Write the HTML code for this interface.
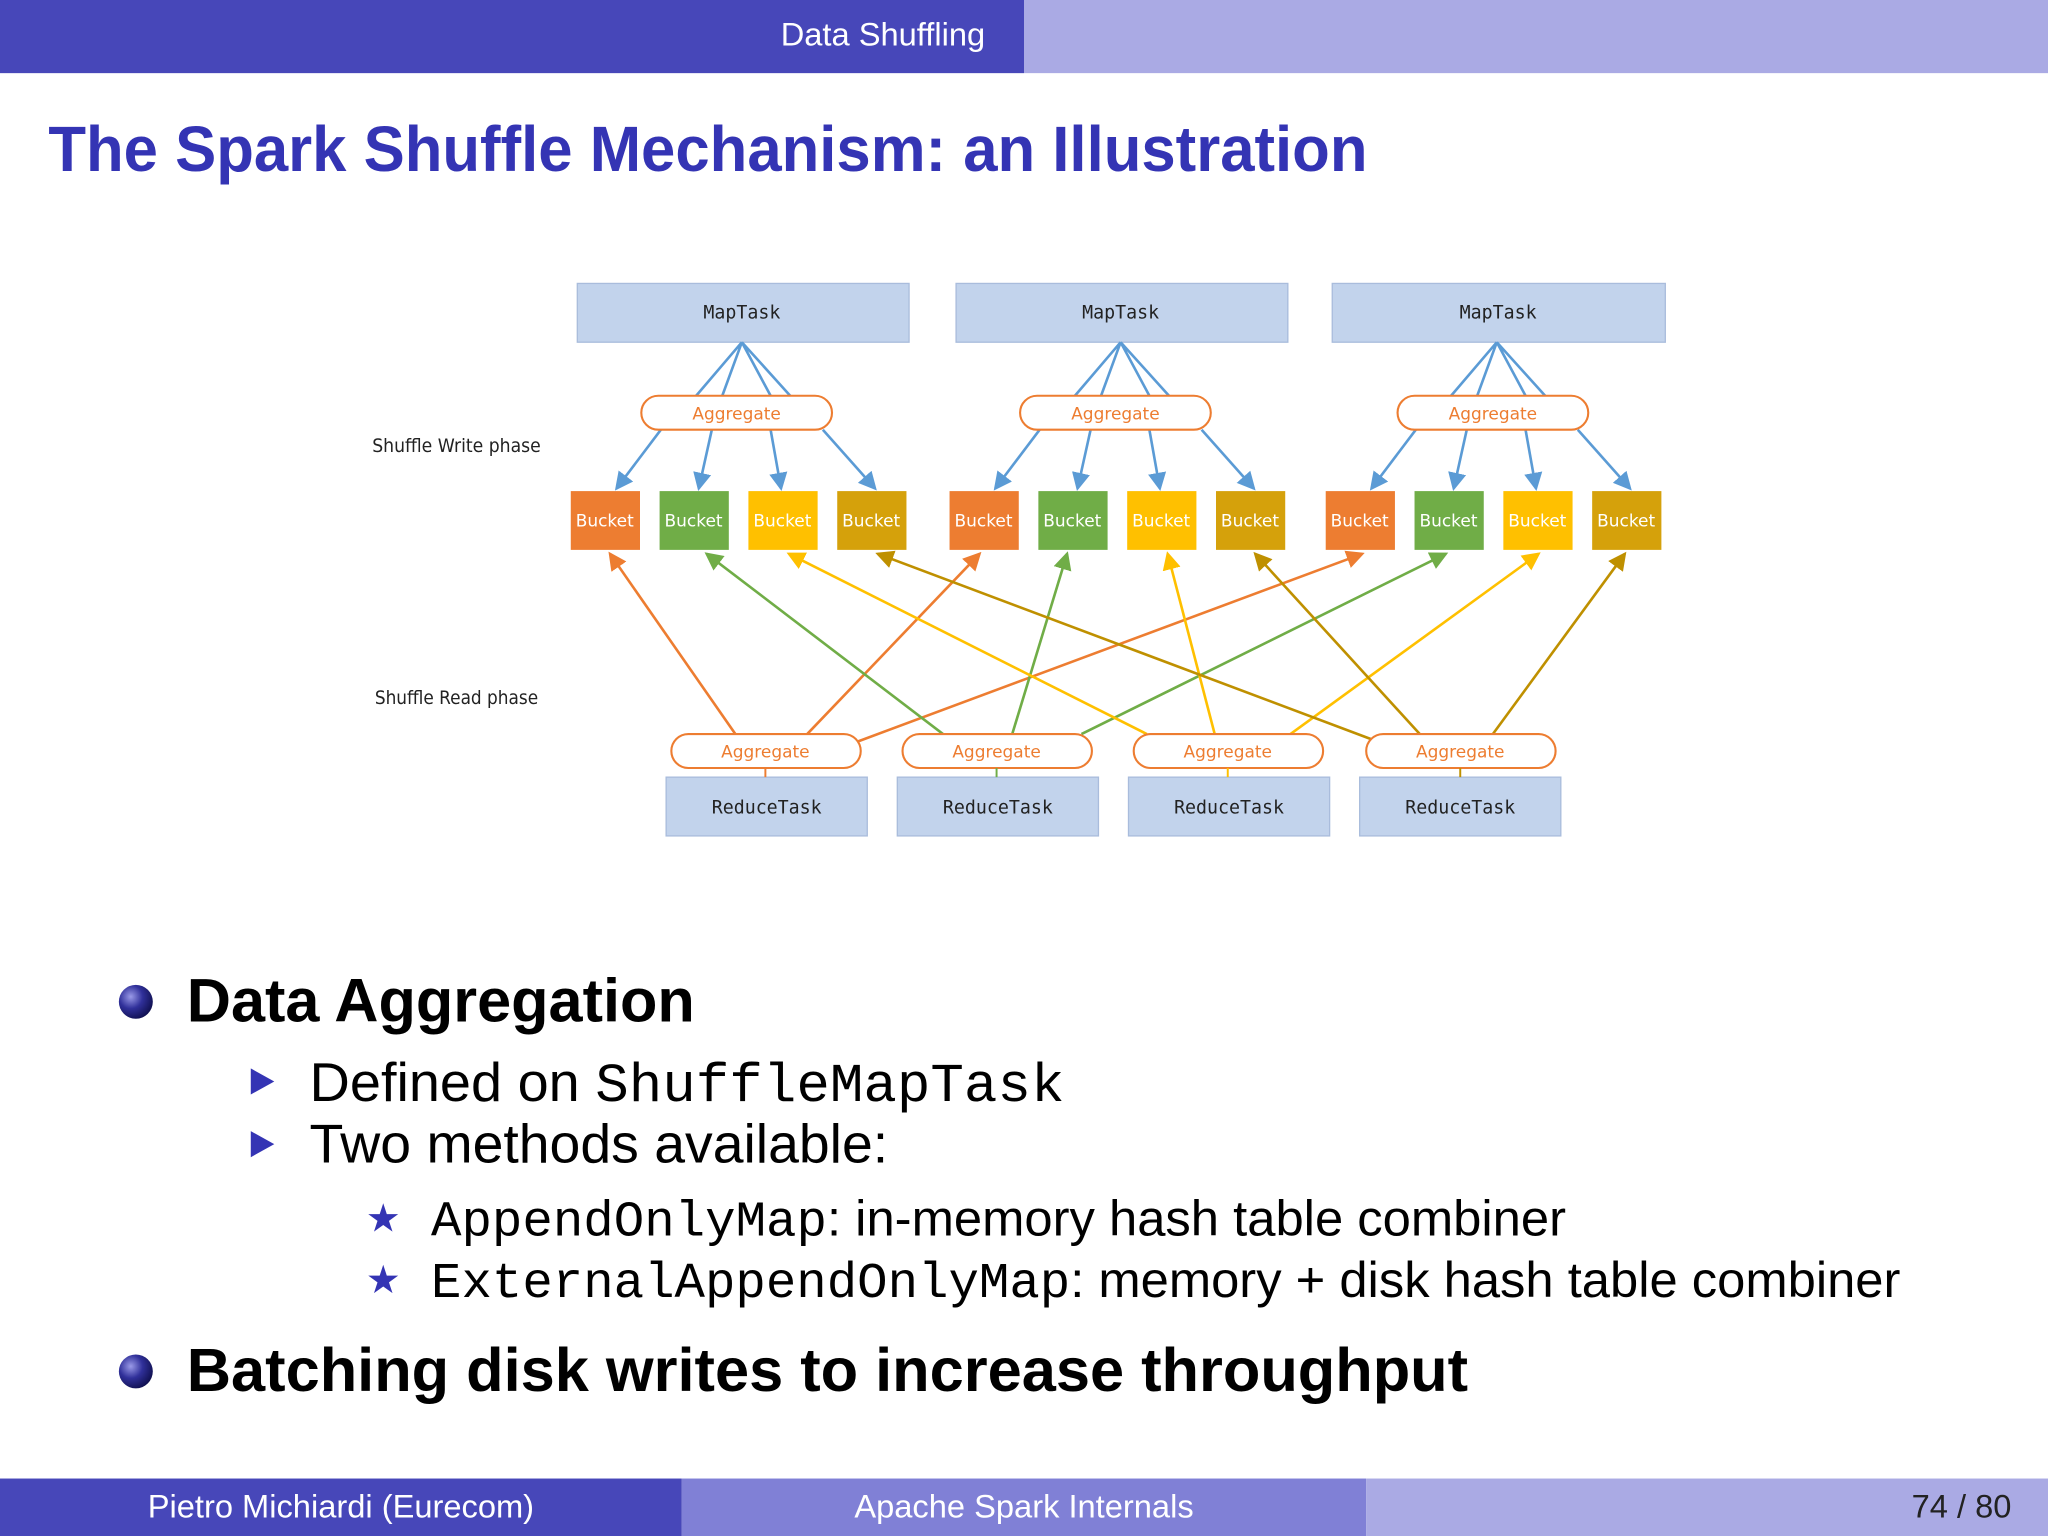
<!DOCTYPE html>
<html><head><meta charset="utf-8"><style>
html,body{margin:0;padding:0;background:#fff;}
svg{display:block;}
</style></head><body>
<svg width="2048" height="1536" viewBox="0 0 1568 1176" xmlns="http://www.w3.org/2000/svg" font-family="Liberation Sans, sans-serif">
<defs>
<marker id="ao" markerWidth="14" markerHeight="14" refX="12" refY="7" orient="auto" markerUnits="userSpaceOnUse"><path d="M0,0 L14,7 L0,14 z" fill="#ed7d31"/></marker>
<marker id="ag" markerWidth="14" markerHeight="14" refX="12" refY="7" orient="auto" markerUnits="userSpaceOnUse"><path d="M0,0 L14,7 L0,14 z" fill="#70ad47"/></marker>
<marker id="ay" markerWidth="14" markerHeight="14" refX="12" refY="7" orient="auto" markerUnits="userSpaceOnUse"><path d="M0,0 L14,7 L0,14 z" fill="#ffc000"/></marker>
<marker id="ad" markerWidth="14" markerHeight="14" refX="12" refY="7" orient="auto" markerUnits="userSpaceOnUse"><path d="M0,0 L14,7 L0,14 z" fill="#bf9000"/></marker>
<marker id="bb" markerWidth="14" markerHeight="14" refX="12" refY="7" orient="auto" markerUnits="userSpaceOnUse"><path d="M0,0 L14,7 L0,14 z" fill="#5b9bd5"/></marker>
<radialGradient id="ball" cx="0.35" cy="0.35" r="0.7"><stop offset="0" stop-color="#9a9ae8"/><stop offset="0.5" stop-color="#30309a"/><stop offset="1" stop-color="#101050"/></radialGradient>
</defs>
<rect x="0" y="0" width="784" height="56" fill="#4747b9"/>
<rect x="784" y="0" width="784" height="56" fill="#aaaae4"/>
<text x="676" y="35" font-size="25" fill="#fff" text-anchor="middle">Data Shuffling</text>
<text x="37" y="131" font-size="49" font-weight="bold" fill="#3434b4" textLength="1010" lengthAdjust="spacingAndGlyphs">The Spark Shuffle Mechanism: an Illustration</text>

<g font-family="DejaVu Sans Mono, Liberation Mono, monospace" font-size="14" fill="#222">
<rect x="442" y="217" width="254" height="45" fill="#c2d3ec" stroke="#a9bcdc"/>
<rect x="732" y="217" width="254" height="45" fill="#c2d3ec" stroke="#a9bcdc"/>
<rect x="1020" y="217" width="255" height="45" fill="#c2d3ec" stroke="#a9bcdc"/>
<text x="568" y="244" text-anchor="middle">MapTask</text>
<text x="858" y="244" text-anchor="middle">MapTask</text>
<text x="1147" y="244" text-anchor="middle">MapTask</text>
<rect x="510" y="595" width="154" height="45" fill="#c2d3ec" stroke="#a9bcdc"/>
<rect x="687" y="595" width="154" height="45" fill="#c2d3ec" stroke="#a9bcdc"/>
<rect x="864" y="595" width="154" height="45" fill="#c2d3ec" stroke="#a9bcdc"/>
<rect x="1041" y="595" width="154" height="45" fill="#c2d3ec" stroke="#a9bcdc"/>
<text x="587" y="623" text-anchor="middle">ReduceTask</text>
<text x="764" y="623" text-anchor="middle">ReduceTask</text>
<text x="941" y="623" text-anchor="middle">ReduceTask</text>
<text x="1118" y="623" text-anchor="middle">ReduceTask</text>
</g>
<g font-size="14" fill="#222" font-family="DejaVu Sans, sans-serif">
<text x="285" y="346" textLength="129" lengthAdjust="spacingAndGlyphs">Shuffle Write phase</text>
<text x="287" y="539" textLength="125" lengthAdjust="spacingAndGlyphs">Shuffle Read phase</text>
</g>

<g stroke="#5b9bd5" stroke-width="2" fill="none">
<g id="m1">
<path d="M568,262 L533,303 M568,262 L553,303 M568,262 L590,303 M568,262 L605,303"/>
<path d="M506,329 L472,374" marker-end="url(#bb)"/>
<path d="M545,329 L535,374" marker-end="url(#bb)"/>
<path d="M590,329 L598,374" marker-end="url(#bb)"/>
<path d="M630,329 L670,374" marker-end="url(#bb)"/>
</g>
<use href="#m1" transform="translate(290,0)"/>
<use href="#m1" transform="translate(578,0)"/>
</g>

<g stroke-width="2" fill="none">
<g stroke="#ed7d31">
<path d="M563,562 L467,424" marker-end="url(#ao)"/>
<path d="M618,562 L750,424" marker-end="url(#ao)"/>
<path d="M656,568 L1043,424" marker-end="url(#ao)"/>
</g>
<g stroke="#70ad47">
<path d="M722,562 L541,424" marker-end="url(#ag)"/>
<path d="M775,562 L817,424" marker-end="url(#ag)"/>
<path d="M828,562 L1107,424" marker-end="url(#ag)"/>
</g>
<g stroke="#ffc000">
<path d="M878,562 L604,424" marker-end="url(#ay)"/>
<path d="M930,562 L894,424" marker-end="url(#ay)"/>
<path d="M988,562 L1178,424" marker-end="url(#ay)"/>
</g>
<g stroke="#bf9000">
<path d="M1050,566 L672,424" marker-end="url(#ad)"/>
<path d="M1087,562 L961,424" marker-end="url(#ad)"/>
<path d="M1143,562 L1244,424" marker-end="url(#ad)"/>
</g>
</g>

<g fill="#fff" stroke="#ed7d31" stroke-width="1.6">
<rect x="491" y="303" width="146" height="26" rx="13"/>
<rect x="781" y="303" width="146" height="26" rx="13"/>
<rect x="1070" y="303" width="146" height="26" rx="13"/>
<rect x="514" y="562" width="145" height="26" rx="13"/>
<rect x="691" y="562" width="145" height="26" rx="13"/>
<rect x="868" y="562" width="145" height="26" rx="13"/>
<rect x="1046" y="562" width="145" height="26" rx="13"/>
</g>
<g font-family="DejaVu Sans, sans-serif" font-size="13" fill="#ed7d31" text-anchor="middle">
<text x="564" y="321">Aggregate</text>
<text x="854" y="321">Aggregate</text>
<text x="1143" y="321">Aggregate</text>
<text x="586" y="580">Aggregate</text>
<text x="763" y="580">Aggregate</text>
<text x="940" y="580">Aggregate</text>
<text x="1118" y="580">Aggregate</text>
</g>
<g stroke-width="1.5" fill="none">
<path d="M586,588 L586,595" stroke="#ed7d31"/>
<path d="M763,588 L763,595" stroke="#70ad47"/>
<path d="M940,588 L940,595" stroke="#ffc000"/>
<path d="M1118,588 L1118,595" stroke="#bf9000"/>
</g>

<g id="bk">
<rect x="437" y="376" width="53" height="45" fill="#ed7d31"/>
<rect x="505" y="376" width="53" height="45" fill="#70ad47"/>
<rect x="573" y="376" width="53" height="45" fill="#ffc000"/>
<rect x="641" y="376" width="53" height="45" fill="#d5a10b"/>
<g font-family="DejaVu Sans, sans-serif" font-size="13" fill="#fff" text-anchor="middle">
<text x="463" y="403">Bucket</text><text x="531" y="403">Bucket</text><text x="599" y="403">Bucket</text><text x="667" y="403">Bucket</text>
</g>
</g>
<use href="#bk" transform="translate(290,0)"/>
<use href="#bk" transform="translate(578,0)"/>

<circle cx="104" cy="767" r="13" fill="url(#ball)"/>
<text x="143" y="782" font-size="47" font-weight="bold" fill="#000" textLength="389" lengthAdjust="spacingAndGlyphs">Data Aggregation</text>
<path d="M192,818 L210,828 L192,838 z" fill="#3434b4"/>
<text x="237" y="843" font-size="42" fill="#000" textLength="578" lengthAdjust="spacingAndGlyphs">Defined on <tspan font-family="Liberation Mono, monospace">ShuffleMapTask</tspan></text>
<path d="M192,866 L210,876 L192,886 z" fill="#3434b4"/>
<text x="237" y="890" font-size="42" fill="#000" textLength="443" lengthAdjust="spacingAndGlyphs">Two methods available:</text>
<text x="280" y="943" font-size="30" fill="#3434b4">★</text>
<text x="330" y="946" font-size="38" fill="#000" textLength="869" lengthAdjust="spacingAndGlyphs"><tspan font-family="Liberation Mono, monospace">AppendOnlyMap</tspan>: in-memory hash table combiner</text>
<text x="280" y="990" font-size="30" fill="#3434b4">★</text>
<text x="330" y="993" font-size="38" fill="#000" textLength="1125" lengthAdjust="spacingAndGlyphs"><tspan font-family="Liberation Mono, monospace">ExternalAppendOnlyMap</tspan>: memory + disk hash table combiner</text>
<circle cx="104" cy="1050" r="13" fill="url(#ball)"/>
<text x="143" y="1065" font-size="47" font-weight="bold" fill="#000" textLength="981" lengthAdjust="spacingAndGlyphs">Batching disk writes to increase throughput</text>

<rect x="0" y="1132" width="522" height="44" fill="#4747b9"/>
<rect x="522" y="1132" width="524" height="44" fill="#8080d6"/>
<rect x="1046" y="1132" width="522" height="44" fill="#aaaae4"/>
<text x="261" y="1162" font-size="25" fill="#fff" text-anchor="middle">Pietro Michiardi  (Eurecom)</text>
<text x="784" y="1162" font-size="25" fill="#fff" text-anchor="middle">Apache Spark Internals</text>
<text x="1540" y="1162" font-size="25" fill="#222" text-anchor="end">74 / 80</text>
</svg>
</body></html>
